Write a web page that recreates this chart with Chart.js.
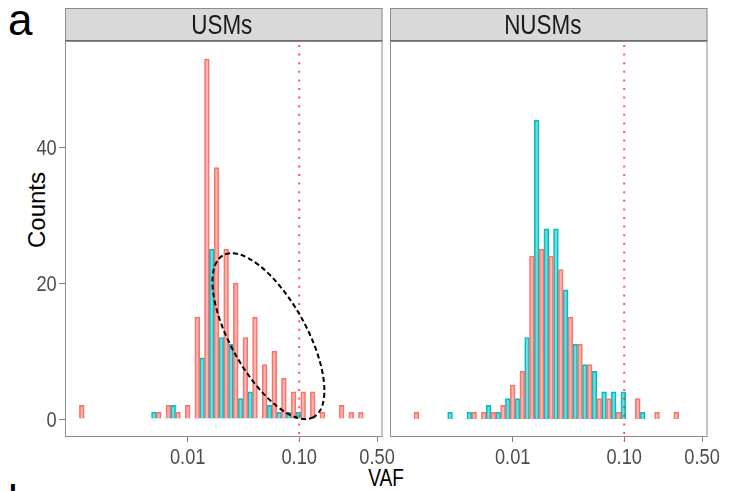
<!DOCTYPE html>
<html>
<head>
<meta charset="utf-8">
<script src="https://cdn.jsdelivr.net/npm/chart.js@4.4.0/dist/chart.umd.min.js"></script>
<style>
  html, body { margin: 0; padding: 0; background: #fff; overflow: hidden; }
  body { width: 730px; height: 491px; position: relative; font-family: 'Liberation Sans', Arial, sans-serif; }
  .panel { position: absolute; top: 0; height: 491px; }
  .txt { position: absolute; white-space: nowrap; line-height: 1; color: #000; }
</style>
</head>
<body>
<div class="txt" style="left:8px; top:-2px; font-size:44px;">a</div>
<div class="txt" style="left:8px; top:479px; font-size:44px;">b</div>
<div class="txt" style="left:36.5px; top:210px; font-size:24px; transform:translate(-50%,-50%) rotate(-90deg);">Counts</div>
<div class="txt" style="left:386px; top:467px; font-size:23px; transform:translateX(-50%) scaleX(0.83);">VAF</div>

<div class="panel" style="left:0; width:420px;"><canvas id="usmChart" width="420" height="491"></canvas></div>
<div class="panel" style="left:325px; width:405px;"><canvas id="nusmChart" width="405" height="491"></canvas></div>

<script>
// histogram bins (midpoints, VAF on log scale, 30 bins)
const binMids = [0.00118, 0.001439, 0.001755, 0.002141, 0.002612, 0.003186, 0.003886, 0.004741, 0.005784, 0.007056,
                 0.008606, 0.0105, 0.01281, 0.01562, 0.01905, 0.02324, 0.02835, 0.03459, 0.04219, 0.05147,
                 0.06279, 0.07659, 0.09342, 0.114, 0.139, 0.1696, 0.2069, 0.2523, 0.3078, 0.3755];

// counts per bin
const usmRed   = [2, 0, 0, 0, 0, 0, 0, 0, 1, 2, 1, 2, 15, 53, 37, 25, 20, 12, 15, 8, 10, 6, 4, 4, 4, 1, 0, 2, 1, 1];
const usmCyan  = [0, 0, 0, 0, 0, 0, 0, 1, 0, 2, 0, 0, 9, 25, 12, 11, 3, 4, 0, 2, 1, 1, 1, 0, 0, 0, 0, 0, 0, 0];
const nusmRed  = [0, 1, 0, 0, 0, 0, 0, 1, 1, 1, 2, 5, 7, 24, 25, 24, 22, 15, 11, 8, 3, 3, 1, 0, 3, 0, 1, 0, 1, 0];
const nusmCyan = [0, 0, 0, 0, 1, 0, 1, 0, 2, 1, 3, 3, 12, 44, 28, 28, 19, 11, 8, 7, 4, 4, 4, 0, 1, 0, 0, 0, 0, 0];

const xTicks = [0.01, 0.1, 0.5];
const xTickLabels = ["0.01", "0.10", "0.50"];
const yTicks = [0, 20, 40];
const yTickLabels = ["0", "20", "40"];
const vafCutoff = 0.1;

const RED = "#F8766D";
const CYAN = "#00BFC4";
const SQUISH = 0.83; // the original figure is horizontally compressed

function toPoints(counts) {
  return binMids.map((v, i) => ({ x: v, y: counts[i] > 0 ? counts[i] : null }));
}

function squishedText(ctx, text, x, y, align) {
  ctx.save();
  ctx.translate(x, y);
  ctx.scale(SQUISH, 1);
  ctx.textAlign = align;
  ctx.fillText(text, 0, 0);
  ctx.restore();
}

// strip, panel border, cutoff line, ellipse and tick labels
const facetDecor = {
  id: "facetDecor",
  afterDatasetsDraw(chart, args, opts) {
    const { ctx, chartArea: a, scales: { x, y } } = chart;
    ctx.save();

    const px = x.getPixelForValue(opts.cutoff);
    ctx.strokeStyle = "rgba(255,30,30,0.75)";
    ctx.lineWidth = 2;
    ctx.setLineDash([2, 6.6]);
    ctx.beginPath();
    ctx.moveTo(px, a.top + 4);
    ctx.lineTo(px, a.bottom + 4);
    ctx.stroke();

    if (opts.ellipse) {
      const e = opts.ellipse;
      ctx.strokeStyle = "#000";
      ctx.lineWidth = 2;
      ctx.setLineDash([5, 3]);
      ctx.beginPath();
      ctx.ellipse(x.getPixelForValue(e.x), y.getPixelForValue(e.y), e.rx, e.ry, e.rot * Math.PI / 180, 0, 2 * Math.PI);
      ctx.stroke();
    }
    ctx.setLineDash([]);

    ctx.strokeStyle = "#8c8c8c";
    ctx.lineWidth = 1;
    ctx.strokeRect(a.left + 0.5, a.top + 0.5, a.width - 1, a.height - 1);

    const top = 8;
    ctx.fillStyle = "#D9D9D9";
    ctx.fillRect(a.left, top, a.width, a.top - top);
    ctx.strokeStyle = "#8c8c8c";
    ctx.strokeRect(a.left + 0.5, top + 0.5, a.width - 1, a.top - top - 1);
    ctx.strokeStyle = "#6e6e6e";
    ctx.beginPath();
    ctx.moveTo(a.left, a.top - 0.5);
    ctx.lineTo(a.right, a.top - 0.5);
    ctx.stroke();

    ctx.fillStyle = "#1A1A1A";
    ctx.font = "27px 'Liberation Sans', Arial, sans-serif";
    ctx.textBaseline = "alphabetic";
    squishedText(ctx, opts.label, (a.left + a.right) / 2 + opts.labelShift, 34.3, "center");

    ctx.fillStyle = "#4D4D4D";
    ctx.font = "22px 'Liberation Sans', Arial, sans-serif";
    x.ticks.forEach((t, i) => {
      squishedText(ctx, xTickLabels[i], x.getPixelForValue(t.value), a.bottom + 26.5, "center");
    });
    if (opts.yLabels) {
      y.ticks.forEach((t, i) => {
        squishedText(ctx, yTickLabels[i], a.left - 8.3, y.getPixelForValue(t.value) + 7.9, "right");
      });
    }
    ctx.restore();
  }
};

function makePanel(canvasId, label, labelShift, redCounts, cyanCounts, showY, rightPad, ellipse) {
  const ctx = document.getElementById(canvasId).getContext("2d");
  return new Chart(ctx, {
    type: "bar",
    data: {
      datasets: [
        {
          data: toPoints(redCounts),
          backgroundColor: "rgba(248,118,109,0.55)",
          borderColor: RED,
          borderWidth: 1
        },
        {
          data: toPoints(cyanCounts),
          backgroundColor: "rgba(0,191,196,0.55)",
          borderColor: CYAN,
          borderWidth: 1
        }
      ]
    },
    options: {
      responsive: false,
      animation: false,
      devicePixelRatio: 1,
      layout: { padding: { top: 41, right: rightPad, left: 0, bottom: 0 } },
      datasets: { bar: { barPercentage: 1, categoryPercentage: 1 } },
      plugins: {
        legend: { display: false },
        tooltip: { enabled: false },
        facetDecor: { label, labelShift, cutoff: vafCutoff, ellipse, yLabels: showY }
      },
      scales: {
        x: {
          type: "logarithmic",
          min: 0.000794,
          max: 0.5585,
          offset: false,
          afterBuildTicks: s => { s.ticks = xTicks.map(v => ({ value: v })); },
          afterFit: s => { s.height = 54; },
          ticks: { display: false },
          grid: { offset: false, drawOnChartArea: false, tickLength: 5, color: "#7f7f7f" },
          border: { display: false }
        },
        y: {
          min: -2.65,
          max: 55.65,
          afterBuildTicks: s => { s.ticks = yTicks.map(v => ({ value: v })); },
          afterFit: s => { s.width = 65; },
          ticks: { display: false },
          grid: { display: showY, drawOnChartArea: false, tickLength: 6, color: "#7f7f7f" },
          border: { display: false }
        }
      }
    },
    plugins: [facetDecor]
  });
}

makePanel("usmChart", "USMs", -2, usmRed, usmCyan, true, 420 - 382.5,
  { x: 0.05297, y: 12.2, rx: 92.7, ry: 37.8, rot: 60.8 });
makePanel("nusmChart", "NUSMs", -6, nusmRed, nusmCyan, false, 405 - 382.5, null);
</script>
</body>
</html>
